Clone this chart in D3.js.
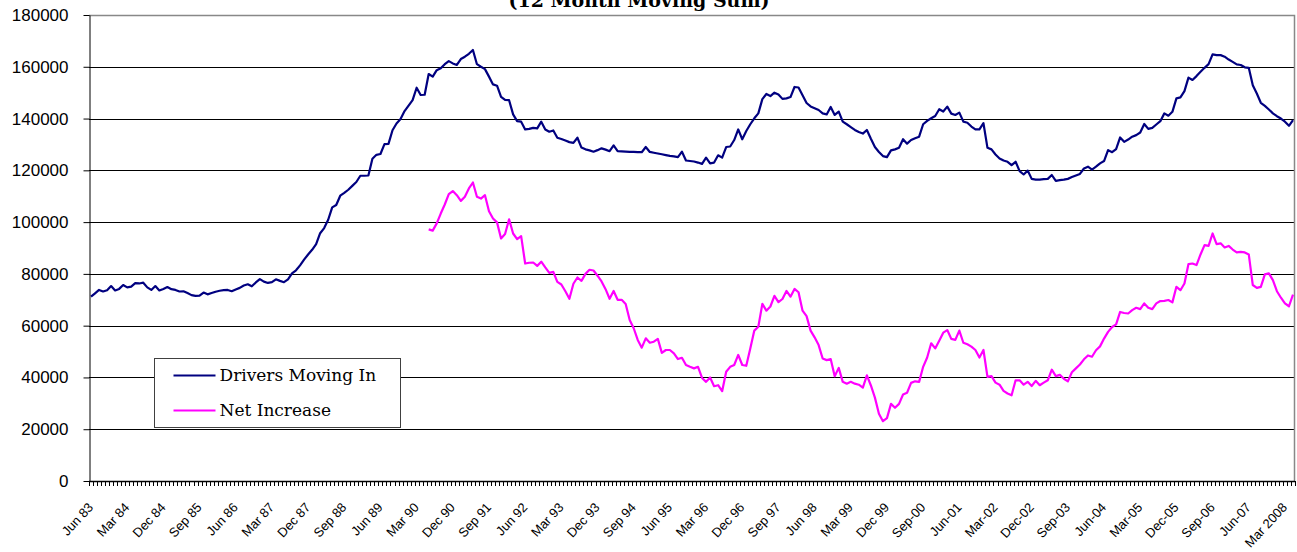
<!DOCTYPE html>
<head>
  <style>
  body { margin: 0; background: #fff; }
  .axis text { font-family: "Liberation Sans", Arial, sans-serif; }
  </style>
</head>
<body>
<svg width="1297" height="552"></svg>
<script src="https://cdnjs.cloudflare.com/ajax/libs/d3/7.8.5/d3.min.js"></script>
<script>

// 12 month moving sums, one value per month from Jun 83
var movingIn = [
  71200,72500,73800,73200,73700,75300,73600,74200,75700,74800,
  75100,76400,76300,76600,74800,73800,75300,73600,74200,74900,
  74100,73800,73200,73300,72600,71800,71500,71600,72800,72100,
  72600,73100,73500,73700,73800,73300,74000,74600,75500,76000,
  75200,76700,78000,77000,76500,76800,77900,77300,76800,77900,
  80200,81400,83300,85500,87500,89300,91500,95700,97700,100900,
  105700,106600,110200,111300,112500,114000,115500,117900,117900,118000,
  124500,126000,126300,130100,130200,135500,138100,139800,142900,145000,
  147100,151900,149100,149200,157200,156200,158700,159400,161000,162200,
  161300,160700,163000,163900,165000,166500,161000,160000,159100,156200,
  153200,152700,148400,147200,147100,141600,139000,138800,135800,136000,
  136400,136200,138800,135800,134900,135400,132600,132100,131500,130900,
  130600,132600,128800,128100,127700,127200,127800,128500,128000,127400,
  129600,127400,127300,127200,127100,127100,127000,127000,129000,127100,
  126800,126500,126200,125900,125600,125400,125100,127200,123800,123600,
  123400,123000,122500,124900,122700,123000,125800,124900,129000,129200,
  131700,135800,132000,135200,137800,140100,142000,147500,149500,148700,
  150000,149300,147600,147800,148300,152200,152000,149000,146000,144700,
  144000,143300,142000,141600,144500,141400,142700,138800,137800,136700,
  135600,134800,134200,135600,132200,129000,127100,125500,125100,127700,
  128100,128700,132000,130300,131700,132400,133000,137800,139100,140100,
  141000,143600,142700,144600,141900,141400,142300,138800,138400,136900,
  135800,135800,138200,128700,128100,126100,124600,123800,123300,122000,
  123300,119700,118400,119900,116700,116400,116400,116600,116700,118200,
  115900,116200,116400,116700,117400,118000,118600,120700,121400,120300,
  121400,122700,123600,127800,127000,128200,132700,131000,131900,133000,
  133600,134600,137900,136000,136400,137700,139000,142000,141100,142600,
  147800,148200,150600,155800,154900,156400,158100,159600,161000,164800,
  164500,164500,163900,162800,161900,160900,160700,159800,159600,152900,
  149700,146100,144900,143500,142000,140900,140000,138800,137200,139400
];

// net increase starts in Jun 90 (month 84)
var netStart = 84;
var netIncrease = [
  97200,96700,99500,103300,106800,110800,112000,110400,108200,109800,
  113000,115300,109800,109100,110400,104200,101400,99900,93700,95400,
  101100,95600,93400,94600,84000,84300,84400,83100,84700,82500,
  80400,80800,76900,75900,73300,70400,76200,78600,77300,80000,
  81600,81300,79300,77100,74100,70400,73400,70000,70000,68400,
  62200,59000,54500,51500,55100,53400,53800,54900,49500,50600,
  50600,49300,47100,47600,44800,44100,43500,44100,39800,38300,
  40000,36600,37000,34700,42200,44100,44800,48700,44800,44500,
  51200,58100,59600,68400,65800,67400,71500,69100,70300,73400,
  71200,74200,72900,65800,63700,58100,55500,52500,47300,46700,
  47100,40500,43700,38300,37600,38300,37600,37200,36100,40800,
  36900,32200,26000,23100,24300,29800,28300,29800,33400,34100,
  37900,38500,38300,44100,47700,53200,51200,54200,57300,58300,
  54900,54500,58100,53400,52800,51900,50600,47700,50600,40200,
  40500,38000,37200,34800,33800,33100,38900,38900,37200,38300,
  36700,38700,37000,38000,38900,43000,40500,41000,39500,38500,
  42000,43500,45000,47000,48500,48000,50500,52000,55000,57600,
  59500,60500,65300,64900,64700,66000,66900,66400,68600,66900,
  66400,68600,69500,69600,69900,69000,75000,73700,76300,83800,
  84000,83400,87500,91100,90800,95600,91500,91800,90200,90800,
  89400,88300,88500,88300,87500,75700,74600,75000,79800,80200,
  77600,73300,70800,68600,67500,72000
];

// one label every 9 months
var tickLabels = ["Jun 83","Mar 84","Dec 84","Sep 85","Jun 86","Mar 87","Dec 87","Sep 88",
  "Jun 89","Mar 90","Dec 90","Sep 91","Jun 92","Mar 93","Dec 93","Sep 94","Jun 95","Mar 96",
  "Dec 96","Sep 97","Jun 98","Mar 99","Dec 99","Sep-00","Jun-01","Mar-02","Dec-02","Sep-03",
  "Jun-04","Mar-05","Dec-05","Sep-06","Jun-07","Mar 2008"];
var labelEvery = 9;

var yTicks = [0,20000,40000,60000,80000,100000,120000,140000,160000,180000];

var seriesNames = ["Drivers Moving In", "Net Increase"];
var seriesColors = ["#000080", "#ff00ff"];

var svg = d3.select("svg"),
    margin = {top: 15, right: 2, bottom: 71, left: 89},
    width = +svg.attr("width") - margin.left - margin.right,
    height = +svg.attr("height") - margin.top - margin.bottom,
    g = svg.append("g").attr("transform", "translate(" + margin.left + "," + margin.top + ")");

var months = d3.range(movingIn.length);

var x = d3.scaleBand()
    .domain(months)
    .range([0, width])
    .padding(0);

var y = d3.scaleLinear()
    .domain([0, 180000])
    .range([height, 0]);

function cx(i) { return x(i) + x.bandwidth() / 2; }
function crisp(v) { return Math.round(v) + 0.5; }

//gridlines
g.selectAll(".grid")
    .data(yTicks.filter(function(d) { return d > 0 && d < 180000; }))
    .enter().append("line")
    .attr("x1", 0).attr("x2", width)
    .attr("y1", function(d) { return crisp(y(d)); })
    .attr("y2", function(d) { return crisp(y(d)); })
    .attr("stroke", "#000")
    .attr("stroke-width", 1);

//plot border top and right
g.append("path")
    .attr("d", "M0," + crisp(y(180000)) + "H" + (width - 0.5) + "V" + height)
    .attr("fill", "none")
    .attr("stroke", "#888")
    .attr("stroke-width", 1.5);

//lines
var line = d3.line()
    .x(function(d) { return cx(d[0]); })
    .y(function(d) { return y(d[1]); });

var inData = movingIn.map(function(v, i) { return [i, v]; });
var netData = netIncrease.map(function(v, i) { return [i + netStart, v]; });

g.append("path")
    .datum(netData)
    .attr("fill", "none")
    .attr("stroke", seriesColors[1])
    .attr("stroke-width", 2.2)
    .attr("stroke-linejoin", "round")
    .attr("d", line);

g.append("path")
    .datum(inData)
    .attr("fill", "none")
    .attr("stroke", seriesColors[0])
    .attr("stroke-width", 2.2)
    .attr("stroke-linejoin", "round")
    .attr("d", line);

//y axis
var yAxis = g.append("g")
    .attr("class", "axis")
    .attr("transform", "translate(0.5,0)")
    .call(d3.axisLeft(y).tickValues(yTicks).tickSize(6).tickSizeOuter(0).tickPadding(15).tickFormat(d3.format("d")));
yAxis.selectAll("text").style("font-size", "17px").attr("fill", "#000");
yAxis.selectAll("line, path").attr("stroke", "#000");

//x axis: month ticks on category boundaries
g.append("line")
    .attr("x1", 0).attr("x2", width)
    .attr("y1", crisp(height)).attr("y2", crisp(height))
    .attr("stroke", "#000").attr("stroke-width", 1.5);

g.selectAll(".mtick")
    .data(d3.range(months.length + 1))
    .enter().append("line")
    .attr("x1", function(k) { return crisp(k * x.step()); })
    .attr("x2", function(k) { return crisp(k * x.step()); })
    .attr("y1", height)
    .attr("y2", height + 5)
    .attr("stroke", "#000")
    .attr("stroke-width", 1);

g.selectAll(".xlabel")
    .data(tickLabels)
    .enter().append("text")
    .attr("class", "axis")
    .attr("transform", function(d, j) {
        return "translate(" + (cx(j * labelEvery) + 3) + "," + (height + 27) + ") rotate(-47)";
    })
    .attr("text-anchor", "end")
    .style("font-family", "'Liberation Sans', Arial, sans-serif")
    .style("font-size", "13px")
    .attr("fill", "#000")
    .text(function(d) { return d; });

//title (cut off at top)
svg.append("text")
    .attr("x", 639)
    .attr("y", 7)
    .attr("text-anchor", "middle")
    .style("font-family", "'DejaVu Serif', serif")
    .style("font-weight", "bold")
    .style("font-size", "19px")
    .text("(12 Month Moving Sum)");

//legend
var legend = svg.append("g").attr("transform", "translate(154.5,358.5)");
legend.append("rect")
    .attr("width", 246)
    .attr("height", 69)
    .attr("fill", "#fff")
    .attr("stroke", "#404040")
    .attr("stroke-width", 1);

var item = legend.selectAll(".item")
    .data(seriesNames)
    .enter().append("g")
    .attr("transform", function(d, i) { return "translate(0," + (17 + i * 35) + ")"; });

item.append("line")
    .attr("x1", 19).attr("x2", 61)
    .attr("stroke", function(d, i) { return seriesColors[i]; })
    .attr("stroke-width", 2.2);

item.append("text")
    .attr("x", 65)
    .attr("dy", "0.35em")
    .style("font-family", "'DejaVu Serif', serif")
    .style("font-size", "17px")
    .attr("fill", "#000")
    .text(function(d) { return d; });

</script>
</body>
